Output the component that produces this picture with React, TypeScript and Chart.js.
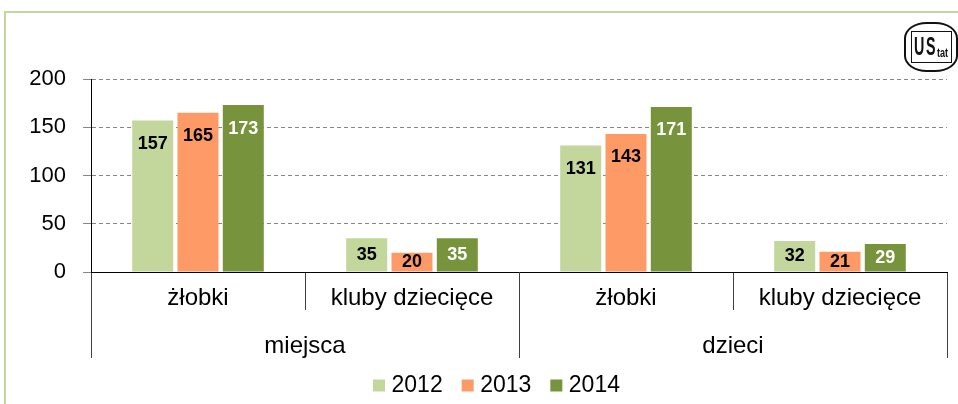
import React, { useEffect, useRef } from 'react';
import { Chart, registerables } from 'chart.js';

Chart.register(...registerables);

// ---- data ----
const SUBCATEGORIES = ['żłobki', 'kluby dziecięce', 'żłobki', 'kluby dziecięce'];
const GROUPS = ['miejsca', 'dzieci'];
const YEARS = ['2012', '2013', '2014'];
const VALUES_2012 = [157, 35, 131, 32];
const VALUES_2013 = [165, 20, 143, 21];
const VALUES_2014 = [173, 35, 171, 29];
const Y_TICKS = [0, 50, 100, 150, 200];

// ---- styles ----
const FONT = '"Liberation Sans", Arial, sans-serif';
const COLORS = ['#c3d69b', '#fd9a66', '#77933c'];
const LABEL_COLORS = ['#000000', '#000000', '#ffffff'];
const SERIES = [VALUES_2012, VALUES_2013, VALUES_2014];

const valueLabels = {
  id: 'valueLabels',
  afterDatasetsDraw(chart: any) {
    const ctx = chart.ctx;
    ctx.save();
    ctx.font = `bold 18px ${FONT}`;
    ctx.textAlign = 'center';
    ctx.textBaseline = 'middle';
    chart.data.datasets.forEach((ds: any, di: number) => {
      const meta = chart.getDatasetMeta(di);
      ctx.fillStyle = LABEL_COLORS[di];
      meta.data.forEach((bar: any, i: number) => {
        const { x, y, base } = bar.getProps(['x', 'y', 'base'], true);
        const cy = Math.min(y + 23.5, (y + base) / 2);
        ctx.fillText(String(ds.data[i]), x, cy);
      });
    });
    ctx.restore();
  },
};

// move the legend box so that its items sit where they do in the original
const legendShift = {
  id: 'legendShift',
  afterLayout(chart: any) {
    if (chart.legend) {
      chart.legend.left = 51;
      chart.legend.top = 350;
    }
  },
};

function Logo() {
  return (
    <div
      style={{
        position: 'absolute',
        left: 904,
        top: 22,
        width: 54,
        height: 50,
        border: '2px solid #111',
        borderRadius: '42% / 32%',
        boxSizing: 'border-box',
        display: 'flex',
        alignItems: 'center',
        justifyContent: 'center',
        overflow: 'hidden',
      }}
    >
      <div
        style={{
          border: '1px solid #111',
          padding: '1px 2px',
          fontFamily: FONT,
          fontWeight: 'bold',
          color: '#111',
          lineHeight: '30px',
          height: 32,
          boxSizing: 'border-box',
          display: 'flex',
          alignItems: 'flex-end',
        }}
      >
        <span style={{ fontSize: 26, display: 'inline-block', transform: 'scaleX(0.55)', width: 12, transformOrigin: 'left' }}>U</span>
        <span style={{ fontSize: 26, display: 'inline-block', transform: 'scaleX(0.55)', width: 11, transformOrigin: 'left' }}>S</span>
        <span style={{ fontSize: 13, display: 'inline-block', transform: 'scaleX(0.7)', width: 12, transformOrigin: 'left', lineHeight: '16px' }}>tat</span>
      </div>
    </div>
  );
}

export default function App() {
  const ref = useRef<HTMLCanvasElement>(null);

  useEffect(() => {
    const chart = new Chart(ref.current as HTMLCanvasElement, {
      type: 'bar',
      data: {
        labels: SUBCATEGORIES,
        datasets: YEARS.map((year, i) => ({
          label: year,
          data: SERIES[i],
          backgroundColor: COLORS[i],
          borderWidth: 0,
          pointStyle: 'rect',
          categoryPercentage: 0.635,
          barPercentage: 0.905,
        })),
      },
      options: {
        responsive: false,
        animation: false,
        events: [],
        layout: { padding: { top: 79, left: 0, right: 11, bottom: -11 } },
        plugins: {
          legend: {
            position: 'bottom',
            labels: {
              usePointStyle: true,
              boxWidth: 2,
              boxHeight: 12,
              padding: 24,
              color: '#000',
              font: { family: FONT, size: 23 },
            },
          },
          tooltip: { enabled: false },
        },
        scales: {
          x: {
            type: 'category',
            position: 'bottom',
            weight: 0,
            offset: true,
            grid: {
              display: true,
              offset: true,
              drawOnChartArea: false,
              drawTicks: true,
              tickLength: 38,
              tickColor: '#404040',
              tickWidth: 1,
              tickBorderDash: [],
            },
            border: { display: true, color: '#000', width: 1 },
            ticks: {
              color: '#000',
              padding: -26,
              autoSkip: false,
              maxRotation: 0,
              font: { family: FONT, size: 24 },
            },
            afterFit: (s: any) => {
              s.height = 38;
            },
          },
          x2: {
            type: 'category',
            labels: GROUPS,
            position: 'bottom',
            weight: 1,
            offset: true,
            grid: {
              display: true,
              offset: true,
              drawOnChartArea: false,
              drawTicks: true,
              tickLength: 48,
              tickColor: '#404040',
              tickWidth: 1,
              tickBorderDash: [],
            },
            border: { display: false },
            ticks: {
              color: '#000',
              padding: -26,
              autoSkip: false,
              maxRotation: 0,
              font: { family: FONT, size: 24 },
            },
            afterFit: (s: any) => {
              s.height = 48;
            },
          },
          y: {
            min: 0,
            max: 200,
            afterBuildTicks: (s: any) => {
              s.ticks = Y_TICKS.map((v) => ({ value: v }));
            },
            afterFit: (s: any) => {
              s.width = 91;
            },
            grid: {
              color: (c: any) => (c.tick && c.tick.value === 0 ? 'rgba(0,0,0,0)' : '#868686'),
              lineWidth: 1,
              tickLength: 8,
              tickColor: '#868686',
              tickBorderDash: [],
            },
            border: { display: true, color: '#000', width: 1, dash: [4, 3] },
            ticks: {
              padding: 17,
              color: '#000',
              font: { family: FONT, size: 22 },
            },
          },
        },
      },
      plugins: [valueLabels, legendShift],
    } as any);
    return () => chart.destroy();
  }, []);

  return (
    <div
      style={{
        position: 'absolute',
        left: 0,
        top: 0,
        width: 958,
        height: 404,
        overflow: 'hidden',
        background: '#fff',
      }}
    >
      <div
        style={{
          position: 'absolute',
          left: 4,
          top: 11,
          width: 970,
          height: 410,
          borderLeft: '2px solid #c3d69b',
          borderTop: '2px solid #c3d69b',
        }}
      />
      <canvas
        ref={ref}
        width={958}
        height={404}
        style={{ position: 'absolute', left: 0, top: 0, width: 958, height: 404 }}
      />
      <Logo />
    </div>
  );
}
